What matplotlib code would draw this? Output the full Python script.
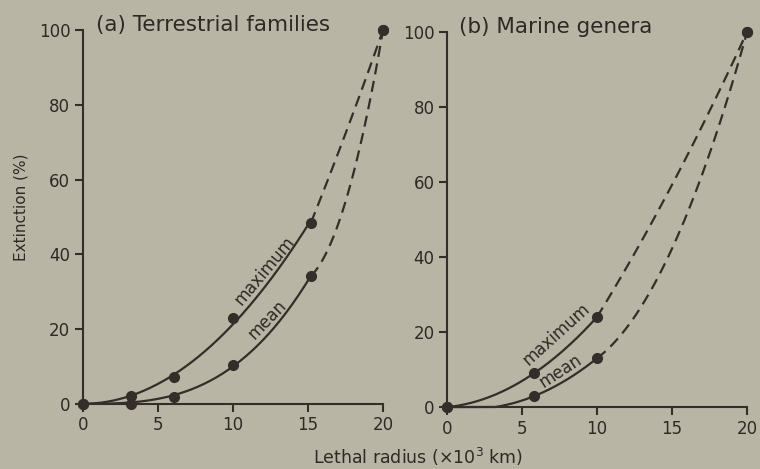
import matplotlib.pyplot as plt
import numpy as np

plt.rcParams['font.family'] = ['DejaVu Sans']

# (a) terrestrial families
a_x_max = np.array([0, 3.2, 6.1, 10, 15.2, 20])
a_y_max = np.array([0, 2.0, 7.3, 23, 48.5, 100])
a_x_mean = np.array([0, 3.2, 6.1, 10, 15.2, 20])
a_y_mean = np.array([0, 0.0, 1.7, 10.5, 34.2, 100])

# (b) marine genera
b_x_max = np.array([0, 5.8, 10, 20])
b_y_max = np.array([0, 9.0, 24, 100])
b_x_mean = np.array([0, 5.8, 10, 20])
b_y_mean = np.array([0, 2.9, 13, 100])

bg = '#b9b5a5'
ink = '#352d29'
txt = '#2f2926'


def curve(ax, xs, ys, powers, slope0):
    # solid: smooth fit (through origin) of the measured points,
    # dashed: extrapolation from the last measured point to 100 %
    xs = xs.astype(float)
    ys = ys.astype(float)
    X = np.column_stack([xs[:-1] ** p for p in powers])
    c = np.linalg.lstsq(X, ys[:-1], rcond=None)[0]
    t1 = np.linspace(0, xs[-2], 150)
    y1 = sum(ci * t1 ** p for ci, p in zip(c, powers))
    ax.plot(t1, np.clip(y1, 0, None), color=ink, lw=1.6, clip_on=False)
    x0, y0, xe, ye = xs[-2], ys[-2], xs[-1], ys[-1]
    D = xe - x0
    k = (ye - y0 - slope0 * D) / D**2
    d = np.linspace(0, D, 100)
    ax.plot(x0 + d, y0 + slope0 * d + k * d**2, color=ink, lw=1.6, ls=(0, (5, 3)), clip_on=False)
    ax.plot(xs, ys, 'o', color=ink, ms=7, clip_on=False, zorder=5)


fig = plt.figure(figsize=(7.6, 4.69), dpi=100, facecolor=bg)
axa = fig.add_axes([0.109, 0.139, 0.395, 0.797])
axb = fig.add_axes([0.588, 0.132, 0.395, 0.800])

curve(axa, a_x_max, a_y_max, (2,), 10.0)
curve(axa, a_x_mean, a_y_mean, (2, 3), 4.0)
curve(axb, b_x_max, b_y_max, (1, 2), 6.5)
curve(axb, b_x_mean, b_y_mean, (1, 2), 3.0)

for ax in (axa, axb):
    ax.set_facecolor(bg)
    ax.set_xlim(0, 20)
    ax.set_ylim(0, 100)
    ax.set_xticks([0, 5, 10, 15, 20])
    ax.set_yticks([0, 20, 40, 60, 80, 100])
    for s in ('top', 'right'):
        ax.spines[s].set_visible(False)
    for s in ('left', 'bottom'):
        ax.spines[s].set_color(ink)
        ax.spines[s].set_linewidth(1.5)
    ax.tick_params(colors=ink, labelcolor=txt, labelsize=12, width=1.5, length=6, pad=3)

axa.set_title('(a) Terrestrial families', loc='left', x=0.045, y=0.975, fontsize=15.5, color=txt)
axb.set_title('(b) Marine genera', loc='left', x=0.04, y=0.975, fontsize=15.5, color=txt)

axa.text(12.1, 35.5, 'maximum', rotation=50, fontsize=12, color=txt, ha='center', va='center')
axa.text(12.3, 22.5, 'mean', rotation=46, fontsize=12, color=txt, ha='center', va='center')
axb.text(7.3, 19.5, 'maximum', rotation=42, fontsize=12, color=txt, ha='center', va='center')
axb.text(7.6, 9.6, 'mean', rotation=33, fontsize=12, color=txt, ha='center', va='center')

fig.text(0.027, 0.559, 'Extinction (%)', rotation=90, ha='center', va='center', fontsize=11, color=txt)
fig.text(0.55, 0.025, 'Lethal radius (×10$^3$ km)', ha='center', va='center', fontsize=12.5, color=txt)

fig.savefig('out.png', dpi=100, facecolor=bg)
